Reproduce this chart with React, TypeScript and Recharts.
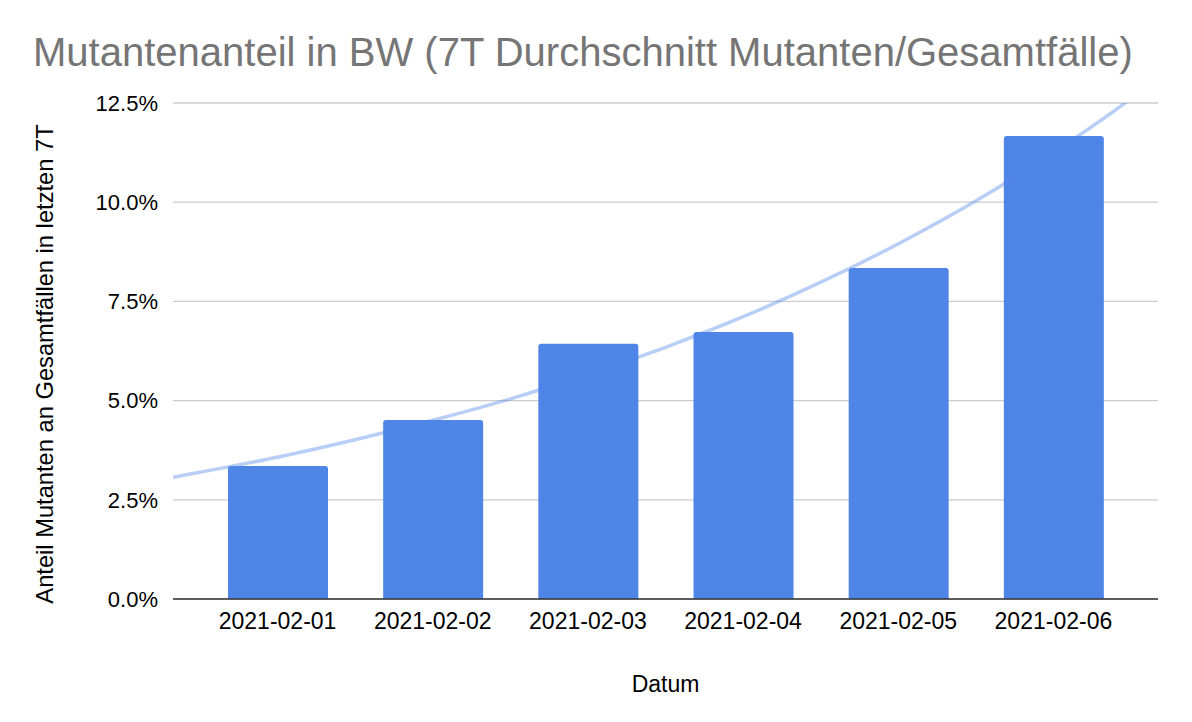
import { ComposedChart, Bar, Line, XAxis, YAxis, CartesianGrid, Label } from 'recharts'

// categories
const dates = ['2021-02-01', '2021-02-02', '2021-02-03', '2021-02-04', '2021-02-05', '2021-02-06']
// share of mutants in % (7-day average)
const shares = [3.35, 4.51, 6.43, 6.73, 8.34, 11.67]
const yTicks = [0, 2.5, 5, 7.5, 10, 12.5]

// exponential trendline at these day positions (0 = first bar)
const trendPos = [-0.68, -0.5, 0, 0.5, 1, 1.5, 2, 2.5, 3, 3.5, 4, 4.5, 5, 5.5, 5.67]
const trendVals = [3.07, 3.2, 3.58, 4.02, 4.51, 5.05, 5.67, 6.35, 7.12, 7.99, 8.96, 10.04, 11.26, 12.62, 13.12]

const barData = dates.map((d, i) => ({ date: d, share: shares[i] }))
const trendData = trendPos.map((d, i) => ({ day: d, trend: trendVals[i] }))

const FONT = '"Liberation Sans", Arial, sans-serif'

export default function App() {
  return (
    <div style={{ position: 'absolute', left: 0, top: 0, width: 1192, height: 722, background: '#fff', fontFamily: FONT }}>
      <div style={{ position: 'absolute', left: 33, top: 30, fontSize: 40, color: '#757575', whiteSpace: 'nowrap', lineHeight: 'normal' }}>
        Mutantenanteil in BW (7T Durchschnitt Mutanten/Gesamtfälle)
      </div>
      <ComposedChart width={1192} height={722} data={barData} margin={{ top: 103, right: 34, bottom: 0, left: 0 }}>
        <CartesianGrid vertical={false} stroke="#cccccc" strokeWidth={1.3} xAxisId="cat" />
        <XAxis
          xAxisId="cat"
          dataKey="date"
          padding={{ left: 27, right: 27 }}
          height={123}
          tickLine={false}
          axisLine={{ stroke: '#333333', strokeWidth: 1.5 }}
          tickMargin={8}
          tick={{ fontSize: 23, fill: '#000', fontFamily: FONT }}
        >
          <Label value="Datum" position="insideBottom" offset={30} style={{ fontSize: 23, fill: '#000', fontFamily: FONT }} />
        </XAxis>
        <XAxis xAxisId="num" dataKey="day" type="number" domain={[-0.68, 5.67]} allowDataOverflow hide />
        <YAxis
          width={173}
          domain={[0, 12.5]}
          allowDataOverflow
          ticks={yTicks}
          tickFormatter={(v: number) => v.toFixed(1) + '%'}
          tickLine={false}
          axisLine={false}
          tickMargin={9}
          tick={{ fontSize: 22, fill: '#000', fontFamily: FONT }}
        >
          <Label
            content={() => (
              <text
                x={0}
                y={0}
                transform="translate(53 364) rotate(-90)"
                textAnchor="middle"
                style={{ fontSize: 23.7, fill: '#000', fontFamily: FONT }}
              >
                Anteil Mutanten an Gesamtfällen in letzten 7T
              </text>
            )}
          />
        </YAxis>
        <Bar xAxisId="cat" dataKey="share" fill="#5085e8" barSize={100} radius={[3, 3, 0, 0]} isAnimationActive={false} />
        <Line
          xAxisId="num"
          data={trendData}
          dataKey="trend"
          type="monotone"
          stroke="#5085e8"
          strokeOpacity={0.4}
          strokeWidth={3.5}
          dot={false}
          activeDot={false}
          isAnimationActive={false}
        />
      </ComposedChart>
    </div>
  )
}
